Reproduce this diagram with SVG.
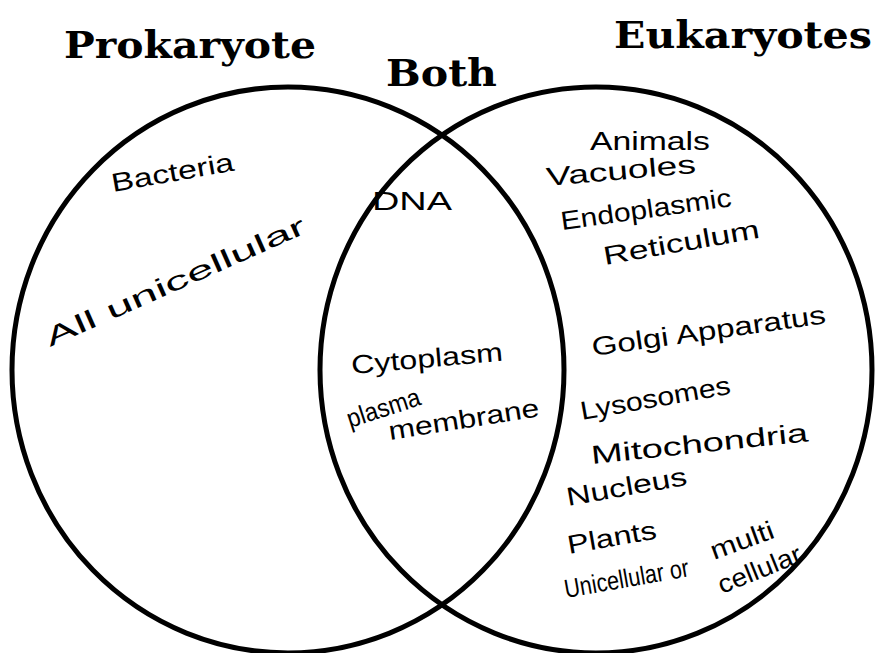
<svg xmlns="http://www.w3.org/2000/svg" width="878" height="653" viewBox="0 0 878 653">
<style>
.h{font-family:"DejaVu Serif","Liberation Serif",serif;font-weight:bold;fill:#000}
.w{font-family:"Liberation Sans","DejaVu Sans",sans-serif;fill:#000;font-size:26px}
.c{fill:none;stroke:#000;stroke-width:5}
</style>
<rect width="878" height="653" fill="#fff"/>
<g id="connectors">
<ellipse id="prokaryote-circle" class="c" cx="288" cy="370" rx="276" ry="283"/>
<ellipse id="eukaryote-circle" class="c" cx="596" cy="370" rx="276" ry="283"/>
</g>
<g id="titles">
<text class="h" x="64" y="58" font-size="38" textLength="252" lengthAdjust="spacingAndGlyphs">Prokaryote</text>
<text class="h" x="386" y="86" font-size="38" textLength="111" lengthAdjust="spacingAndGlyphs">Both</text>
<text class="h" x="614" y="48" font-size="38" textLength="258" lengthAdjust="spacingAndGlyphs">Eukaryotes</text>
</g>
<g id="prokaryote">
<text class="w" font-size="30" transform="translate(113,192) rotate(-10)" textLength="124" lengthAdjust="spacingAndGlyphs">Bacteria</text>
<text class="w" font-size="36" transform="translate(50,347) rotate(-24)" textLength="282" lengthAdjust="spacingAndGlyphs">All unicellular</text>
</g>
<g id="both">
<text class="w" x="372" y="210" font-size="32" textLength="80" lengthAdjust="spacingAndGlyphs">DNA</text>
<text class="w" transform="translate(352,374) rotate(-5)" font-size="30" textLength="152" lengthAdjust="spacingAndGlyphs">Cytoplasm</text>
<text class="w" transform="translate(350,428) rotate(-18)" font-size="24" textLength="76" lengthAdjust="spacingAndGlyphs">plasma</text>
<text class="w" transform="translate(390,440) rotate(-9)" font-size="24" textLength="152" lengthAdjust="spacingAndGlyphs">membrane</text>
</g>
<g id="eukaryotes">
<text class="w" x="590" y="150" font-size="30" textLength="120" lengthAdjust="spacingAndGlyphs">Animals</text>
<text class="w" transform="translate(547,186) rotate(-5)" font-size="30" textLength="150" lengthAdjust="spacingAndGlyphs">Vacuoles</text>
<text class="w" transform="translate(562,230) rotate(-8)" font-size="28" textLength="172" lengthAdjust="spacingAndGlyphs">Endoplasmic</text>
<text class="w" transform="translate(605,265) rotate(-10)" font-size="28" textLength="158" lengthAdjust="spacingAndGlyphs">Reticulum</text>
<text class="w" transform="translate(593,356) rotate(-8)" font-size="30" textLength="236" lengthAdjust="spacingAndGlyphs">Golgi Apparatus</text>
<text class="w" transform="translate(582,420) rotate(-10)" font-size="26" textLength="152" lengthAdjust="spacingAndGlyphs">Lysosomes</text>
<text class="w" transform="translate(592,464) rotate(-6)" font-size="30" textLength="218" lengthAdjust="spacingAndGlyphs">Mitochondria</text>
<text class="w" transform="translate(568,506) rotate(-10)" font-size="28" textLength="122" lengthAdjust="spacingAndGlyphs">Nucleus</text>
<text class="w" transform="translate(569,554) rotate(-10)" font-size="24" textLength="90" lengthAdjust="spacingAndGlyphs">Plants</text>
<text class="w" transform="translate(566,598) rotate(-10)" font-size="22" textLength="126" lengthAdjust="spacingAndGlyphs">Unicellular or</text>
<text class="w" transform="translate(714,560) rotate(-20)" font-size="26" textLength="66" lengthAdjust="spacingAndGlyphs">multi</text>
<text class="w" transform="translate(722,594) rotate(-22)" font-size="22" textLength="88" lengthAdjust="spacingAndGlyphs">cellular</text>
</g>
</svg>
